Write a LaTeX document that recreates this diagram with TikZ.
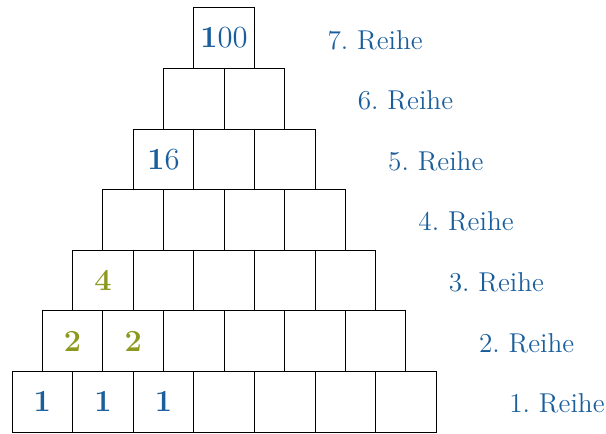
\documentclass[tikz,border=0pt]{standalone}
\definecolor{blau}{RGB}{26,94,156}
\definecolor{oliv}{RGB}{140,152,30}
\begin{document}
\begin{tikzpicture}[
    feld/.style={draw, minimum size=1cm, inner sep=0pt, outer sep=0pt},
    zahl/.style={text=blau, font=\Large},
    tipp/.style={text=oliv, font=\Large\bfseries},
    reihe/.style={anchor=west, inner sep=0pt, text=blau,
                  font=\fontsize{12.8}{16}\selectfont}
  ]
  \useasboundingbox (-0.198,-0.0165) rectangle (9.802,7.129);

  % Felder der Pyramide, Reihe fuer Reihe von unten nach oben.
  \foreach \r in {1,...,7} {
    \pgfmathtruncatemacro{\n}{8-\r}
    \foreach \i in {1,...,\n} {
      \node[feld] (b-\r-\i) at ({(\r-1)*0.5+\i-0.5},{\r-0.5}) {};
    }
    \node[reihe] (l-\r) at ({(\r-1)*0.5+\n+1.2},{\r-0.53}) {\r.~Reihe};
  }

  % Vorgegebene Zahlen.
  \node[zahl] (z-1-1) at (b-1-1) {\textbf{1}};
  \node[zahl] (z-1-2) at (b-1-2) {\textbf{1}};
  \node[zahl] (z-1-3) at (b-1-3) {\textbf{1}};
  \node[zahl] (z-5-1) at (b-5-1) {\textbf{1}6};
  \node[zahl] (z-7-1) at (b-7-1) {\textbf{1}00};

  % Schon ausgerechnet.
  \node[tipp] (t-2-1) at (b-2-1) {2};
  \node[tipp] (t-2-2) at (b-2-2) {2};
  \node[tipp] (t-3-1) at (b-3-1) {4};

\end{tikzpicture}
\end{document}
